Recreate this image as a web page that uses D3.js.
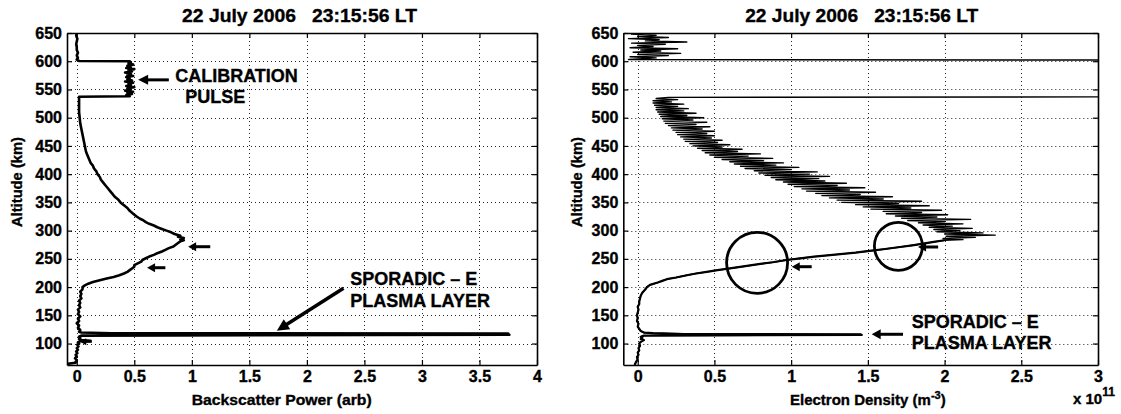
<!DOCTYPE html>
<html><head><meta charset="utf-8">
<script src="https://cdn.jsdelivr.net/npm/d3@7"></script>
<style>
body{margin:0;background:#fff;}
svg text{font-family:"Liberation Sans",Arial,Helvetica,sans-serif;font-weight:bold;fill:#000;stroke:#000;stroke-width:0.35px;}
</style></head><body>
<svg id="c" width="1121" height="414"></svg>
<script>
// ---------------- DATA ----------------
const titleText = "22 July 2006\u00a0\u00a0\u00a023:15:56 LT";
const altTicks = [100,150,200,250,300,350,400,450,500,550,600,650];
const altTickLabels = ["100","150","200","250","300","350","400","450","500","550","600","650"];
const powerTicks = [0,0.5,1,1.5,2,2.5,3,3.5,4];
const powerTickLabels = ["0","0.5","1","1.5","2","2.5","3","3.5","4"];
const densityTicks = [0,0.5,1,1.5,2,2.5,3];
const densityTickLabels = ["0","0.5","1","1.5","2","2.5","3"];

// Backscatter power profile (arb) vs altitude (km)
const powerAlt = [62,64,66,68,71,74,77,80,83,86,89,92,95,98,100,102,104,105,106,108,110,112,114,115.5,116.5,117.6,118.2,119.5,121,124,128,132,136,140,144,148,152,156,160,164,168,172,176,180,184,188,192,196,200,203,206,209,212,215,218,221,224,227,230,233,236,239,242,245,248,251,254,257,260,263,266,269,272,275,278,281,283,285,287,289,291,294,297,300,303,306,309,312,315,318,321,325,330,335,340,345,350,355,360,365,370,375,380,385,390,395,400,405,410,415,420,425,430,435,440,450,460,470,480,490,500,510,520,530,537,538,540,542,544,546,548,550,552,554,556,558,560,562,564,566,568,570,572,574,576,578,580,582,584,586,588,590,592,594,596,598,600,600.5,603,606,610,615,620,625,630,635,640,645,650];
const power = [-0.085,-0.08,-0.01,-0.01,0.0,-0.015,0.0,-0.01,0.005,-0.005,0.01,0.0,0.015,0.005,0.02,0.01,0.03,0.12,0.04,0.02,0.03,0.02,0.04,3.76,3.74,3.75,0.3,0.04,0.02,0.03,0.01,0.02,0.0,0.02,0.01,0.03,0.01,0.02,0.01,0.03,0.02,0.03,0.02,0.04,0.03,0.04,0.03,0.05,0.05,0.07,0.1,0.14,0.2,0.26,0.32,0.37,0.41,0.44,0.46,0.48,0.5,0.5,0.53,0.56,0.57,0.6,0.63,0.67,0.7,0.74,0.77,0.8,0.84,0.86,0.88,0.9,0.93,0.9,0.93,0.88,0.9,0.85,0.82,0.78,0.74,0.7,0.67,0.63,0.6,0.58,0.55,0.52,0.49,0.46,0.44,0.41,0.38,0.36,0.33,0.31,0.29,0.27,0.25,0.23,0.21,0.2,0.18,0.17,0.15,0.14,0.12,0.11,0.1,0.09,0.08,0.07,0.06,0.05,0.04,0.03,0.025,0.02,0.02,0.02,0.02,0.46,0.43,0.48,0.44,0.49,0.42,0.47,0.44,0.5,0.43,0.47,0.45,0.49,0.42,0.48,0.44,0.46,0.43,0.49,0.44,0.47,0.42,0.48,0.45,0.5,0.43,0.47,0.44,0.49,0.45,0.47,0.46,0.02,0.0,0.01,0.0,0.01,0.0,0.0,-0.005,0.0,0.005,-0.005,0.0];

// Electron density (x1e11 m^-3) vs altitude (km), lower smooth part
const densLowAlt = [62,65,68,72,76,80,84,88,92,96,100,103,106,108,110,112,114,115.3,116.3,116.8,117.5,118.5,119.5,122,126,130,135,140,145,150,155,160,165,170,175,180,185,190,196,200,204,208,211,214,217,221,224,227,230,233,237,241,244,248,251,254,257,261,264,267,271,274,277,280,283];
const densLow = [-0.02,-0.015,-0.01,0.0,-0.005,0.005,0.0,0.01,0.005,0.015,0.01,0.02,0.04,0.02,0.03,0.02,0.04,1.46,1.45,0.3,0.22,0.1,0.04,0.02,0.01,0.0,0.005,-0.005,0.0,-0.005,0.0,0.005,0.0,0.01,0.01,0.015,0.02,0.03,0.05,0.06,0.08,0.13,0.16,0.19,0.25,0.32,0.38,0.45,0.52,0.6,0.7,0.8,0.88,0.97,1.06,1.15,1.27,1.42,1.51,1.6,1.71,1.79,1.86,1.93,2.0];
// upper noisy part (values beyond 3 are off scale, between 537 and 602 km)
const densHighAlt = [284,286,288,290,292,294,296,298,300,302,304,306,308,310,312,314,316,318,320,322,324,326,328,330,332,334,336,338,340,342,344,346,348,350,352,354,356,358,360,362,364,366,368,370,372,374,376,378,380,382,384,386,388,390,392,394,396,398,400,402,404,406,408,410,412,414,416,418,420,422,424,426,428,430,432,434,436,438,440,442,444,446,448,450,452,454,456,458,460,462,464,466,468,470,472,474,476,478,480,482,484,486,488,490,492,494,496,498,500,502,504,506,508,510,512,514,516,518,520,522,524,526,528,530,532,534,536,537,602,603,604,606,608,610,612,614,616,618,620,622,624,626,628,630,632,634,636,638,640,642,644,646,648,650];
const densHigh = [2.12,1.99,2.2,2.01,2.33,2.0,2.25,1.95,2.1,1.93,2.18,1.9,2.05,1.86,2.12,1.83,2.0,1.76,2.17,1.72,1.95,1.68,2.02,1.62,1.85,1.6,1.98,1.52,1.78,1.47,1.9,1.42,1.7,1.33,1.85,1.3,1.6,1.25,1.66,1.2,1.45,1.16,1.55,1.1,1.38,1.07,1.48,1.02,1.3,0.98,1.36,0.95,1.22,0.9,1.18,0.87,1.25,0.83,1.12,0.79,1.17,0.76,1.0,0.7,1.05,0.67,0.9,0.63,0.95,0.6,0.82,0.55,0.88,0.5,0.72,0.47,0.8,0.44,0.65,0.42,0.68,0.39,0.55,0.36,0.6,0.34,0.52,0.31,0.55,0.3,0.48,0.28,0.5,0.26,0.45,0.25,0.5,0.23,0.42,0.22,0.47,0.2,0.38,0.18,0.45,0.17,0.36,0.16,0.43,0.15,0.32,0.14,0.38,0.13,0.3,0.12,0.33,0.12,0.26,0.11,0.3,0.1,0.22,0.1,0.26,0.12,0.2,3.3,3.3,-0.06,0.0,0.12,-0.05,0.2,0.0,0.28,-0.03,0.15,0.02,0.26,-0.05,0.1,0.0,0.18,-0.04,0.32,0.05,0.14,-0.06,0.2,0.0,0.12,-0.04,0.08];

// ---------------- DRAW ----------------
const svg = d3.select("#c");
const Y0 = 365, Y1 = 33;
const altDomain = [62, 650];

function arrow(g, tx, ty, hx, hy, w, hl, hw) {
  const dx = hx - tx, dy = hy - ty, L = Math.hypot(dx, dy);
  const ux = dx / L, uy = dy / L, px = -uy, py = ux;
  const bx = hx - ux * hl, by = hy - uy * hl;
  g.append("line").attr("x1", tx).attr("y1", ty).attr("x2", bx + ux).attr("y2", by + uy)
    .attr("stroke", "#000").attr("stroke-width", w);
  g.append("polygon").attr("points",
    [[hx, hy], [bx + px * hw, by + py * hw], [bx - px * hw, by - py * hw]].map(p => p.join(",")).join(" "))
    .attr("fill", "#000");
}

function panel(cfg) {
  const x = d3.scaleLinear().domain(cfg.xDomain).range([cfg.x0, cfg.x1]);
  const y = d3.scaleLinear().domain(altDomain).range([Y0, Y1]);
  const g = svg.append("g");
  const id = "clip" + cfg.name;
  svg.append("clipPath").attr("id", id).append("rect")
    .attr("x", cfg.x0).attr("y", Y1).attr("width", cfg.x1 - cfg.x0).attr("height", Y0 - Y1);

  // grid
  const grid = g.append("g").attr("stroke", "#222").attr("stroke-width", 1).attr("stroke-dasharray", "1,3");
  grid.selectAll("line.v").data(cfg.xTicks).join("line").attr("class", "v")
    .attr("x1", d => Math.round(x(d)) + 0.5).attr("x2", d => Math.round(x(d)) + 0.5).attr("y1", Y1).attr("y2", Y0);
  grid.selectAll("line.h").data(altTicks).join("line").attr("class", "h")
    .attr("y1", d => Math.round(y(d)) + 0.5).attr("y2", d => Math.round(y(d)) + 0.5).attr("x1", cfg.x0).attr("x2", cfg.x1);

  // data
  const dg = g.append("g").attr("clip-path", `url(#${id})`);
  cfg.lines.forEach(ln => {
    const pts = ln.alt.map((a, i) => [ln.val[i], a]);
    dg.append("path").datum(pts)
      .attr("d", d3.line().x(d => x(d[0])).y(d => y(d[1])))
      .attr("fill", "none").attr("stroke", "#000").attr("stroke-width", ln.w)
      .attr("stroke-linejoin", "round");
  });

  // axes
  const fs = "16px";
  const ab = g.append("g").attr("transform", `translate(0,${Y0})`)
    .call(d3.axisBottom(x).tickValues(cfg.xTicks).tickFormat((d, i) => cfg.xLabels[i]).tickSize(-5).tickSizeOuter(0).tickPadding(6));
  const at = g.append("g").attr("transform", `translate(0,${Y1})`)
    .call(d3.axisTop(x).tickValues(cfg.xTicks).tickFormat("").tickSize(-5).tickSizeOuter(0));
  const al = g.append("g").attr("transform", `translate(${cfg.x0},0)`)
    .call(d3.axisLeft(y).tickValues(altTicks).tickFormat((d, i) => altTickLabels[i]).tickSize(-5).tickSizeOuter(0).tickPadding(5));
  const ar = g.append("g").attr("transform", `translate(${cfg.x1},0)`)
    .call(d3.axisRight(y).tickValues(altTicks).tickFormat("").tickSize(-5).tickSizeOuter(0));
  [ab, at, al, ar].forEach(a => {
    a.attr("font-family", null).attr("font-size", fs);
    a.selectAll("path.domain").attr("stroke", "#000").attr("stroke-width", 1.6);
    a.selectAll(".tick line").attr("stroke", "#000").attr("stroke-width", 1.2);
  });

  // title
  svg.append("text").attr("x", cfg.titleX).attr("y", 22).attr("text-anchor", "middle")
    .attr("font-size", "19px").attr("textLength", cfg.titleW).attr("lengthAdjust", "spacingAndGlyphs")
    .text(titleText);
  // y label
  svg.append("text").attr("transform", `translate(${cfg.ylabX},182) rotate(-90)`)
    .attr("text-anchor", "middle").attr("font-size", "15px").attr("textLength", 90)
    .attr("lengthAdjust", "spacingAndGlyphs").text("Altitude (km)");
  return { x, y, g };
}

const P1 = panel({
  name: "a", x0: 67, x1: 537, xDomain: [-0.085, 4], xTicks: powerTicks, xLabels: powerTickLabels,
  titleX: 299.5, titleW: 235, ylabX: 21.5,
  lines: [{ alt: powerAlt, val: power, w: 2.6 }]
});
const P2 = panel({
  name: "b", x0: 623.3, x1: 1098, xDomain: [-0.094, 3], xTicks: densityTicks, xLabels: densityTickLabels,
  titleX: 861.7, titleW: 233, ylabX: 582,
  lines: [{ alt: densLowAlt.concat(densHighAlt), val: densLow.concat(densHigh), w: 1.4 },
          { alt: densLowAlt, val: densLow, w: 2.2 }]
});

// x labels
svg.append("text").attr("x", 191.7).attr("y", 405).attr("font-size", "15px")
  .attr("textLength", 180).attr("lengthAdjust", "spacingAndGlyphs").text("Backscatter Power (arb)");
const el = svg.append("text").attr("x", 790).attr("y", 405).attr("font-size", "15px");
el.append("tspan").text("Electron Density (m");
el.append("tspan").attr("font-size", "11px").attr("dy", -6).text("-3");
el.append("tspan").attr("dy", 6).text(")");
const ex = svg.append("text").attr("x", 1073).attr("y", 404).attr("font-size", "15px");
ex.append("tspan").text("x 10");
ex.append("tspan").attr("font-size", "12px").attr("dy", -8).text("11");

// ---------------- ANNOTATIONS ----------------
const ag = svg.append("g");
const ann = (P, txt, v, a, size) => ag.append("text").attr("x", P.x(v)).attr("y", P.y(a))
  .attr("font-size", size || "18px").text(txt);
// left panel
arrow(ag, P1.x(0.80), P1.y(567), P1.x(0.533), P1.y(567), 3, 10, 5);
ann(P1, "CALIBRATION", 0.855, 563.8);
ann(P1, "PULSE", 0.942, 525.5);
arrow(ag, P1.x(1.16), P1.y(271.5), P1.x(0.968), P1.y(271.5), 3, 8, 4.5);
arrow(ag, P1.x(0.77), P1.y(234.3), P1.x(0.611), P1.y(234.3), 3, 8, 4.5);
arrow(ag, P1.x(0.13), P1.y(103), P1.x(0.03), P1.y(103), 2, 6, 3.5);
ann(P1, "SPORADIC \u2013 E", 2.377, 203.7);
ann(P1, "PLASMA LAYER", 2.377, 165.3);
arrow(ag, P1.x(2.318), P1.y(197.8), P1.x(1.739), P1.y(122.8), 3.5, 12, 6);
// right panel
[[0.778, 243, 30.5], [1.699, 272.2, 24]].forEach(c => {
  ag.append("circle").attr("cx", P2.x(c[0])).attr("cy", P2.y(c[1])).attr("r", c[2])
    .attr("fill", "none").attr("stroke", "#000").attr("stroke-width", 2.8);
});
arrow(ag, P2.x(1.134), P2.y(236.1), P2.x(1.004), P2.y(236.1), 3, 8, 4.5);
arrow(ag, P2.x(1.958), P2.y(271), P2.x(1.827), P2.y(271), 3, 8, 4.5);
arrow(ag, P2.x(1.729), P2.y(116.4), P2.x(1.525), P2.y(116.4), 3, 9, 5);
ann(P2, "SPORADIC \u2013 E", 1.786, 127.5);
ann(P2, "PLASMA LAYER", 1.786, 90.3);
</script>
</body></html>
